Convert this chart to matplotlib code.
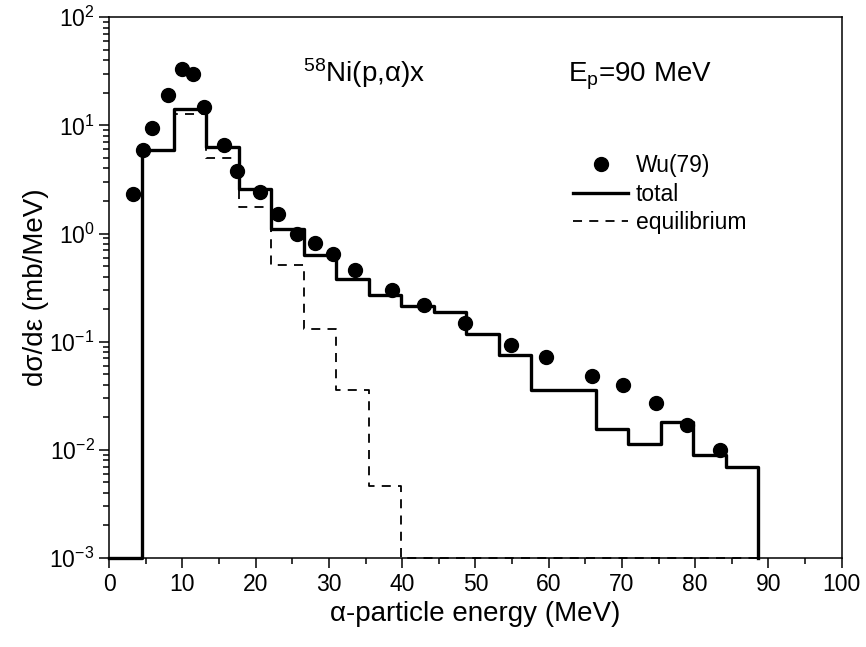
import numpy as np
import matplotlib.pyplot as plt
from matplotlib.ticker import MultipleLocator, LogLocator, NullFormatter

plt.rcParams['font.family'] = ['Liberation Sans', 'DejaVu Sans']
plt.rcParams['mathtext.fontset'] = 'custom'
plt.rcParams['mathtext.rm'] = 'Liberation Sans'
plt.rcParams['mathtext.it'] = 'Liberation Sans:italic'

# experimental points, Wu(79)
exp_e = [3.3, 4.6, 5.8, 8.0, 10.0, 11.5, 13.0, 15.7, 17.5, 20.6, 23.0, 25.7,
         28.1, 30.5, 33.5, 38.6, 43.0, 48.6, 54.9, 59.7, 65.9, 70.1, 74.7,
         78.9, 83.4]
exp_xs = [2.3, 5.9, 9.4, 19.0, 33.0, 30.0, 14.8, 6.6, 3.8, 2.4, 1.5, 1.0,
          0.82, 0.64, 0.46, 0.30, 0.22, 0.15, 0.094, 0.072, 0.048, 0.040,
          0.027, 0.017, 0.0099]

# histogram bin edges (MeV)
edges = [0.0, 4.43, 8.86, 13.29, 17.72, 22.15, 26.58, 31.01, 35.44, 39.87,
         44.3, 48.73, 53.16, 57.59, 62.02, 66.45, 70.88, 75.31, 79.74, 84.17,
         88.6]

total = [1e-3, 5.9, 14.1, 6.3, 2.6, 1.1, 0.63, 0.38, 0.27, 0.215, 0.19,
         0.117, 0.075, 0.036, 0.036, 0.0157, 0.0113, 0.0182, 0.009, 0.0069]

equil = [1e-3, 5.9, 12.6, 5.0, 1.75, 0.51, 0.132, 0.036, 0.0046, 1e-3, 1e-3,
         1e-3, 1e-3, 1e-3, 1e-3, 1e-3, 1e-3, 1e-3, 1e-3, 1e-3]

fig = plt.figure(figsize=(8.66, 6.47), dpi=100)
ax = fig.add_axes([0.126, 0.1375, 0.846, 0.836])

ax.step(edges, total + [1e-3], where='post', color='black', lw=2.4,
        clip_on=False, zorder=3, label='total')
ax.step(edges, equil + [1e-3], where='post', color='black', lw=1.3,
        dashes=(5, 4), clip_on=False, zorder=2, label='equilibrium')
ax.plot(exp_e, exp_xs, 'o', color='black', ms=10, ls='none', zorder=4,
        label='Wu(79)')

ax.set_yscale('log')
ax.set_xlim(0, 100)
ax.set_ylim(1e-3, 1e2)
ax.xaxis.set_major_locator(MultipleLocator(10))
ax.xaxis.set_minor_locator(MultipleLocator(5))
ax.yaxis.set_major_locator(LogLocator(base=10, numticks=10))
ax.yaxis.set_minor_locator(LogLocator(base=10, subs=np.arange(2, 10), numticks=10))
ax.yaxis.set_minor_formatter(NullFormatter())

ax.tick_params(which='both', direction='out', top=False, right=False,
               labelsize=16.5, width=1.1)
ax.tick_params(which='major', length=7)
ax.tick_params(which='minor', length=4)
for s in ax.spines.values():
    s.set_linewidth(1.1)

ax.set_xlabel('α-particle energy (MeV)', fontsize=20, labelpad=4)
ax.set_ylabel('dσ/dε (mb/MeV)', fontsize=20, labelpad=0)

ax.text(0.265, 0.881, r'$^{58}$Ni(p,α)x', transform=ax.transAxes,
        fontsize=20)
ax.text(0.626, 0.881, r'E$_\mathregular{p}$=90 MeV', transform=ax.transAxes,
        fontsize=20)

h, l = ax.get_legend_handles_labels()
order = [2, 0, 1]
ax.legend([h[i] for i in order], [l[i] for i in order], frameon=False,
          fontsize=16.5, loc='upper left', bbox_to_anchor=(0.6617, 0.762),
          bbox_transform=fig.transFigure, borderpad=0, borderaxespad=0,
          handlelength=2.4, handletextpad=0.35, labelspacing=0.25)

fig.savefig('out.png', dpi=100)
